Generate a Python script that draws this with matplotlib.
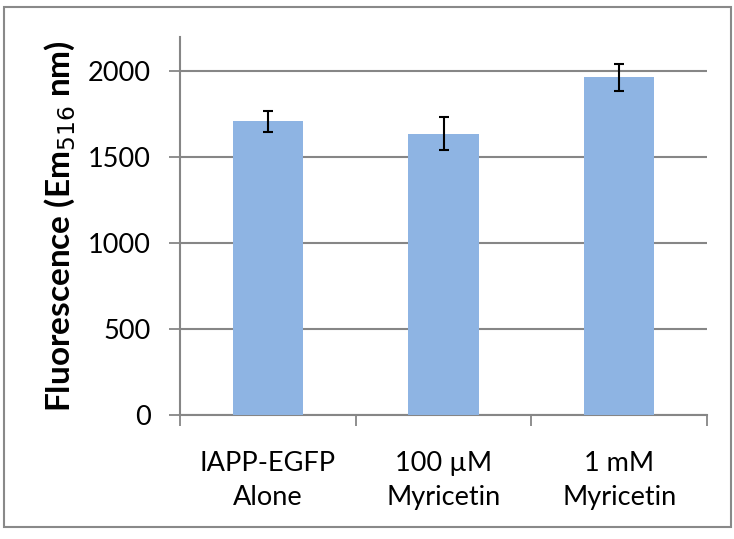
import matplotlib
matplotlib.use("Agg")
import matplotlib.pyplot as plt
from matplotlib.patches import Rectangle

# Data
categories = ["IAPP-EGFP\nAlone", "100 \u00b5M\nMyricetin", "1 mM\nMyricetin"]
values = [1710, 1638, 1965]
errors = [62, 98, 78]
yticks = [0, 500, 1000, 1500, 2000]

bar_color = '#8EB4E3'
grid_color = '#868686'

plt.rcParams['font.family'] = ['Lato', 'DejaVu Sans']

fig = plt.figure(figsize=(7.34, 5.39), dpi=100)
ax = fig.add_axes([180 / 734, 1 - 415 / 539, (707 - 180) / 734, (415 - 37) / 539])

x = list(range(len(categories)))
ax.bar(x, values, width=0.4, color=bar_color, zorder=3)
ax.errorbar(x, values, yerr=errors, fmt='none', ecolor='black',
            elinewidth=1.5, capsize=3.8, capthick=1.5, zorder=4)

ax.set_xlim(-0.5, len(categories) - 0.5)
ax.set_ylim(0, 2200)
ax.set_yticks(yticks)
ax.set_yticklabels([str(t) for t in yticks], fontsize=19.5)

# category boundaries carry the tick marks, labels sit at the centres
ax.set_xticks([i - 0.5 for i in range(len(categories) + 1)])
ax.set_xticklabels([])
ax.set_xticks(x, minor=True)
ax.set_xticklabels(categories, minor=True, fontsize=19.5, linespacing=1.45)
ax.tick_params(axis='x', which='major', length=8, width=1.3, color=grid_color)
ax.tick_params(axis='x', which='minor', length=0, pad=26)
ax.tick_params(axis='y', length=8, width=1.3, color=grid_color, pad=13)

ax.grid(axis='y', color=grid_color, lw=1.5, zorder=0)
for side in ['top', 'right']:
    ax.spines[side].set_visible(False)
for side in ['left', 'bottom']:
    ax.spines[side].set_color(grid_color)
    ax.spines[side].set_linewidth(1.5)

ax.set_ylabel('Fluorescence (Em$_{516}$ nm)', fontsize=24, fontweight='bold', labelpad=7)

# outer chart border
fig.patches.append(Rectangle((4 / 734, 1 - 527 / 539), (731 - 4) / 734, (527 - 7) / 539,
                             transform=fig.transFigure, fill=False,
                             edgecolor='#898989', lw=1.5))

fig.savefig('out.png', dpi=100)
